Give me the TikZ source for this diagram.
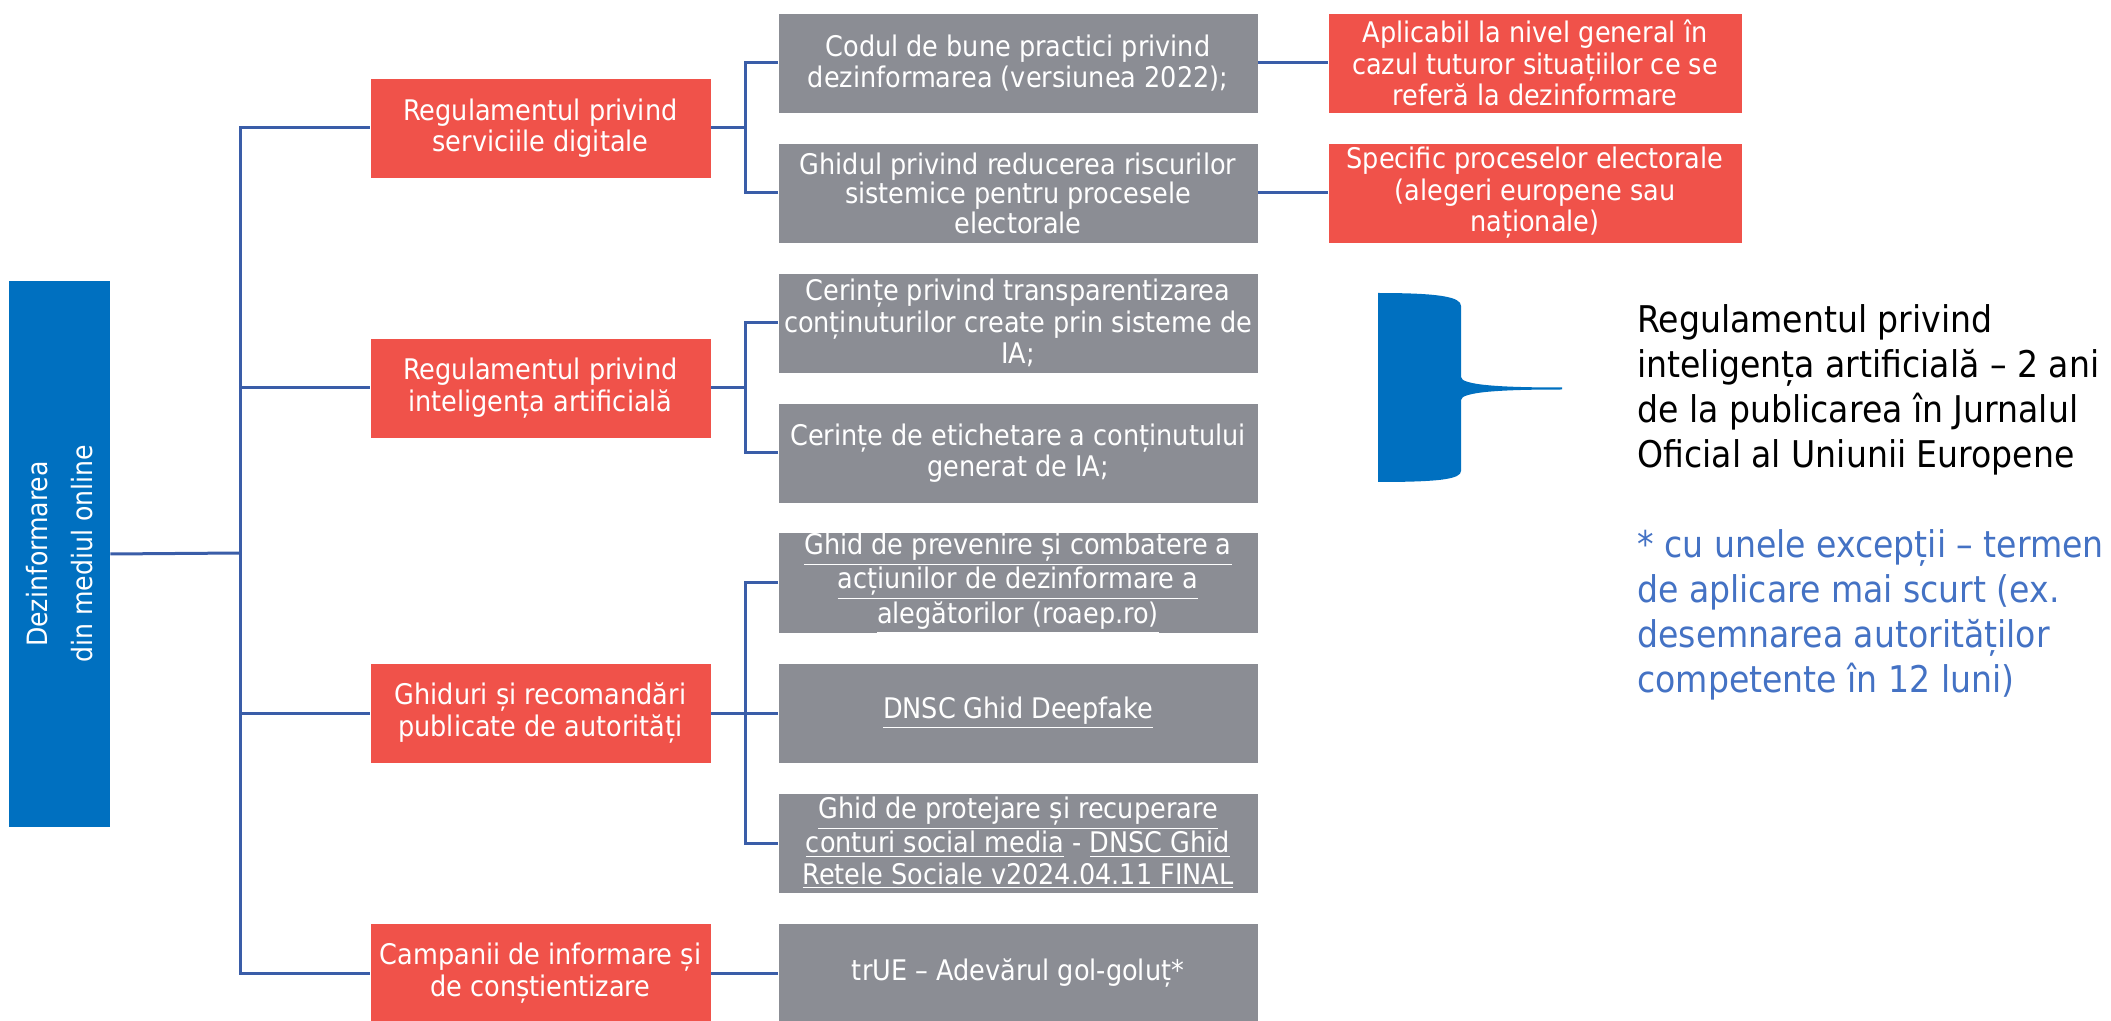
\documentclass[tikz,border=0pt]{standalone}
\usepackage{fontspec}
\setmainfont{DejaVu Sans Condensed}
\definecolor{rootblue}{RGB}{0,112,192}
\definecolor{boxred}{RGB}{240,82,74}
\definecolor{boxgrey}{RGB}{139,141,148}
\definecolor{linkblue}{RGB}{58,93,168}
\definecolor{noteblue}{RGB}{68,114,196}
\newcommand{\boxfont}{\fontsize{14.2}{15.8}\selectfont}
\newcommand{\notefont}{\fontsize{18.4}{22.5}\selectfont}
\newcommand{\lnk}[1]{\underline{#1}}

\begin{document}
\begin{tikzpicture}[x=0.5pt,y=0.5pt,yscale=-1,xscale=1,
  conn/.style={draw=linkblue,line width=1.5pt},
  redbox/.style={fill=boxred,draw=white,line width=0.4pt,text=white,inner sep=0pt,align=center,font=\boxfont,minimum width=170.5pt,minimum height=50pt},
  greybox/.style={redbox,fill=boxgrey,minimum width=240pt}]
\useasboundingbox (0,0) rectangle (2111,1021);

%root
\draw (59.5,554) node (root) [fill=rootblue,text=white,rotate=90,minimum width=273pt,minimum height=50.5pt,inner sep=0pt,align=center,font=\fontsize{14}{22.5}\selectfont] {Dezinformarea\\din mediul online};

%level 1
\draw (540.5,128) node (rA) [redbox] {Regulamentul privind\\serviciile digitale};
\draw (540.5,388) node (rB) [redbox] {Regulamentul privind\\inteligența artificială};
\draw (540.5,713) node (rC) [redbox] {Ghiduri și recomandări\\publicate de autorități};
\draw (540.5,973) node (rD) [redbox] {Campanii de informare și\\de conștientizare};

%level 2
\draw (1018,63) node (g1) [greybox] {Codul de bune practici privind\\dezinformarea (versiunea 2022);};
\draw (1018,193) node (g2) [greybox,font=\fontsize{14.2}{13.4}\selectfont] {Ghidul privind reducerea riscurilor\\sistemice pentru procesele\\electorale};
\draw (1018,323) node (g3) [greybox] {Cerințe privind transparentizarea\\conținuturilor create prin sisteme de\\IA;};
\draw (1018,453) node (g4) [greybox] {Cerințe de etichetare a conținutului\\generat de IA;};
\draw (1018,583) node (g5) [greybox] {\lnk{Ghid de prevenire și combatere a}\\\lnk{acțiunilor de dezinformare a}\\\lnk{alegătorilor (roaep.ro)}};
\draw (1018,713) node (g6) [greybox] {\lnk{DNSC Ghid Deepfake}};
\draw (1018,843) node (g7) [greybox] {\lnk{Ghid de protejare și recuperare}\\\lnk{conturi social media} - \lnk{DNSC Ghid}\\\lnk{Retele Sociale v2024.04.11 FINAL}};
\draw (1018,973) node (g8) [greybox] {trUE – Adevărul gol-goluț*};

%level 3
\draw (1535,63) node (n1) [redbox,minimum width=207pt] {Aplicabil la nivel general în\\cazul tuturor situațiilor ce se\\referă la dezinformare};
\draw (1535,193) node (n2) [redbox,minimum width=207pt] {Specific proceselor electorale\\(alegeri europene sau\\naționale)};

%links
\coordinate (tr) at (240,553);
\draw [conn] (root.south) -- (tr);
\draw [conn] (rA.west) -- (tr |- rA) -- (tr |- rD) -- (rD.west);
\draw [conn] (tr |- rB) -- (rB.west);
\draw [conn] (tr |- rC) -- (rC.west);
\draw [conn] (rA.east) -- ++(34,0) coordinate (jA);
\draw [conn] (g1.west) -- (jA |- g1) -- (jA |- g2) -- (g2.west);
\draw [conn] (rB.east) -- ++(34,0) coordinate (jB);
\draw [conn] (g3.west) -- (jB |- g3) -- (jB |- g4) -- (g4.west);
\draw [conn] (rC.east) -- ++(34,0) coordinate (jC) -- (g6.west);
\draw [conn] (g5.west) -- (jC |- g5) -- (jC |- g7) -- (g7.west);
\draw [conn] (rD.east) -- (g8.west);
\draw [conn] (g1.east) -- (n1.west);
\draw [conn] (g2.east) -- (n2.west);

%brace
\fill [rootblue] (1378,293) .. controls (1440,293) and (1461,297) .. (1461,306) -- (1461,377) .. controls (1461,385) and (1500,387.5) .. (1562,387.5) -- (1562,389.5) .. controls (1500,389.5) and (1461,392) .. (1461,400) -- (1461,471) .. controls (1461,479) and (1440,482) .. (1378,482) -- cycle ;

%notes (anchored at the baseline of the last line)
\draw (1637,468) node (note) [anchor=base west,inner sep=0pt,align=left,font=\notefont] {Regulamentul privind\\inteligența artificială – 2 ani\\de la publicarea în Jurnalul\\Oficial al Uniunii Europene};
\draw (1637,692) node (exc) [anchor=base west,inner sep=0pt,align=left,font=\notefont,text=noteblue] {* cu unele excepții – termen\\de aplicare mai scurt (ex.\\desemnarea autorităților\\competente în 12 luni)};
\end{tikzpicture}
\end{document}
